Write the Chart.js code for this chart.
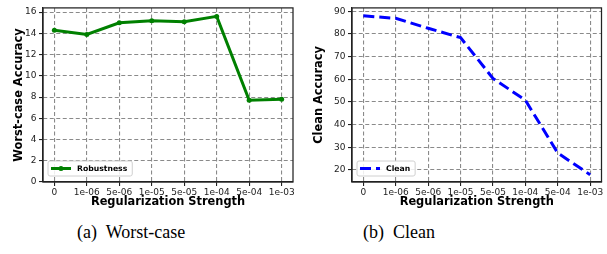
<!DOCTYPE html>
<html>
<head>
<meta charset="utf-8">
<script src="https://cdn.jsdelivr.net/npm/chart.js@4"></script>
<style>
  body { margin: 0; background: #fff; }
  #wrap { position: relative; width: 607px; height: 254px; }
  canvas { position: absolute; top: 0; }
  .cap { position: absolute; font-family: "Liberation Serif", serif; font-size: 18px; line-height: 20px; color: #000; white-space: pre; }
</style>
</head>
<body>
<div id="wrap">
  <canvas id="left" width="300" height="215" style="left:0"></canvas>
  <canvas id="right" width="307" height="215" style="left:300px"></canvas>
  <div class="cap" style="left:77px;top:222px">(a)  Worst-case</div>
  <div class="cap" style="left:363px;top:222px">(b)  Clean</div>
</div>
<script>
// data
const strengths = ['0', '1e-06', '5e-06', '1e-05', '5e-05', '1e-04', '5e-04', '1e-03'];
const robustness = [14.3, 13.9, 15.0, 15.2, 15.1, 15.6, 7.7, 7.8];
const clean = [88.0, 86.9, 82.5, 78.4, 60.4, 50.8, 27.5, 17.9];
const worstTicks = [0, 2, 4, 6, 8, 10, 12, 14, 16];
const cleanTicks = [20, 30, 40, 50, 60, 70, 80, 90];

const tickFont = { family: 'DejaVu Sans', size: 9 };
const titleFont = { family: 'DejaVu Sans', size: 11.4, weight: 'bold' };

// box around plot + legend inside lower left
const framePlugin = {
  id: 'frame',
  afterDatasetsDraw(chart) {
    const { ctx, chartArea: a } = chart;
    ctx.save();
    ctx.strokeStyle = '#222';
    ctx.lineWidth = 1.25;
    ctx.strokeRect(a.left, a.top, a.right - a.left, a.bottom - a.top);

    const ds = chart.data.datasets[0];
    ctx.font = 'bold 7.7px "DejaVu Sans"';
    const tw = ctx.measureText(ds.label).width;
    const x = a.left + 5, y = a.bottom - 21, h = 15, w = 34 + tw;
    ctx.fillStyle = 'rgba(255,255,255,0.85)';
    ctx.strokeStyle = '#d0d0d0';
    ctx.lineWidth = 1;
    ctx.beginPath();
    ctx.roundRect(x, y, w, h, 2);
    ctx.fill();
    ctx.stroke();
    const cy = y + h / 2;
    ctx.strokeStyle = ds.borderColor;
    ctx.lineWidth = ds.borderWidth;
    ctx.setLineDash(ds.borderDash || []);
    ctx.beginPath();
    ctx.moveTo(x + 3, cy);
    ctx.lineTo(x + 23, cy);
    ctx.stroke();
    ctx.setLineDash([]);
    if (ds.pointRadius) {
      ctx.fillStyle = ds.borderColor;
      ctx.beginPath();
      ctx.arc(x + 13, cy, ds.pointRadius, 0, Math.PI * 2);
      ctx.fill();
    }
    ctx.fillStyle = '#000';
    ctx.textBaseline = 'middle';
    ctx.fillText(ds.label, x + 29, cy + 0.5);
    ctx.restore();
  }
};

function makeChart(canvas, label, values, color, dash, radius, yTitle, yTicks, yMin, yMax, padRight, padTop, yWidth) {
  return new Chart(canvas, {
    type: 'line',
    data: {
      datasets: [{
        label: label,
        data: values.map((v, i) => ({ x: i, y: v })),
        borderColor: color,
        backgroundColor: color,
        borderWidth: 3,
        borderDash: dash,
        pointRadius: radius,
        pointHoverRadius: radius,
        pointBorderWidth: 0,
        tension: 0
      }]
    },
    options: {
      responsive: false,
      animation: false,
      devicePixelRatio: 1,
      layout: { padding: { left: 0, right: padRight, top: padTop, bottom: 0 } },
      plugins: { legend: { display: false }, tooltip: { enabled: false } },
      scales: {
        x: {
          type: 'linear',
          min: -0.35,
          max: strengths.length - 1 + 0.35,
          afterBuildTicks: s => { s.ticks = strengths.map((t, i) => ({ value: i })); },
          afterFit: s => { s.height = 33; },
          ticks: {
            autoSkip: false, maxRotation: 0, padding: 1.5, color: '#222', font: tickFont,
            callback: v => strengths[v]
          },
          grid: { color: '#8a8a8a', lineWidth: 1.1, tickLength: 4, tickColor: '#222', tickWidth: 1.1 },
          border: { display: true, color: '#222', width: 1.25, dash: [4, 2.5] },
          title: { display: true, text: 'Regularization Strength', color: '#000', font: titleFont, padding: { top: 0, bottom: 6.2 } }
        },
        y: {
          min: yMin,
          max: yMax,
          afterBuildTicks: s => { s.ticks = yTicks.map(v => ({ value: v })); },
          afterFit: s => { s.width = yWidth; },
          ticks: { padding: 2.5, color: '#222', font: tickFont },
          grid: { color: '#8a8a8a', lineWidth: 1.1, tickLength: 4, tickColor: '#222', tickWidth: 1.1 },
          border: { display: true, color: '#222', width: 1.25, dash: [4, 2.5] },
          title: { display: true, text: yTitle, color: '#000', font: titleFont, padding: { top: 12.2, bottom: 0 } }
        }
      }
    },
    plugins: [framePlugin]
  });
}

makeChart(document.getElementById('left'), 'Robustness', robustness, '#008000', [], 2.5,
  'Worst-case Accuracy', worstTicks, 0, 16.4, 7, 2, 43);
makeChart(document.getElementById('right'), 'Clean', clean, '#0000ff', [11, 5], 0,
  'Clean Accuracy', cleanTicks, 14.7, 91.5, 5.5, 1, 52);
</script>
</body>
</html>
